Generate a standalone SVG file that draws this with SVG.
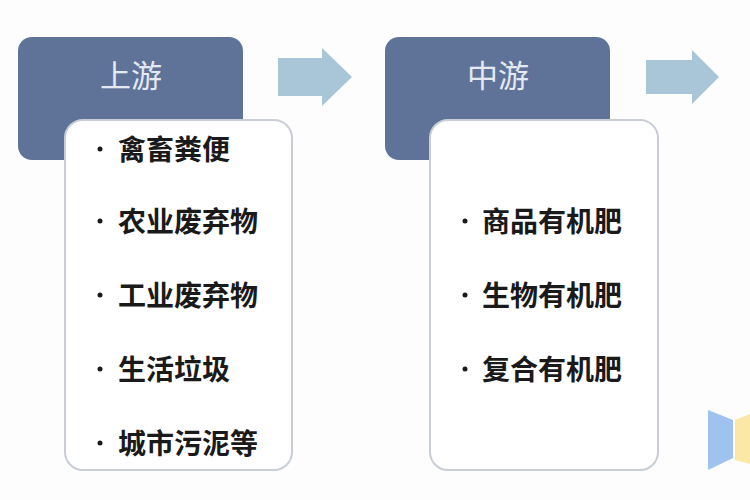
<svg xmlns="http://www.w3.org/2000/svg" width="750" height="500" viewBox="0 0 750 500">
<style>
.hd{fill:#5f7399}
.bx{fill:#fff;stroke:#c9ced6;stroke-width:2}
.ar{fill:#a9c6d9}
.ht{font-family:"Noto Sans CJK SC",sans-serif;font-size:31px;fill:#e4e9f2;text-anchor:middle}
.it{font-family:"Noto Sans CJK SC",sans-serif;font-size:28px;font-weight:bold;fill:#1a1a1a}
.bl{fill:#1a1a1a}
</style>
<rect width="750" height="500" fill="#fdfdfe"/>
<g id="up">
<rect class="hd" x="18" y="37" width="225" height="123" rx="14"/>
<text class="ht" x="131" y="87">上游</text>
<rect class="bx" x="65" y="120" width="227" height="350" rx="18"/>
<circle class="bl" cx="100" cy="149" r="2.5"/><text class="it" x="118" y="160">禽畜粪便</text>
<circle class="bl" cx="100" cy="221" r="2.5"/><text class="it" x="118" y="232">农业废弃物</text>
<circle class="bl" cx="100" cy="295" r="2.5"/><text class="it" x="118" y="306">工业废弃物</text>
<circle class="bl" cx="100" cy="369" r="2.5"/><text class="it" x="118" y="380">生活垃圾</text>
<circle class="bl" cx="100" cy="443" r="2.5"/><text class="it" x="118" y="454">城市污泥等</text>
</g>
<g id="mid">
<rect class="hd" x="385" y="37" width="225" height="123" rx="14"/>
<text class="ht" x="498" y="87">中游</text>
<rect class="bx" x="430" y="120" width="228" height="350" rx="18"/>
<circle class="bl" cx="465" cy="221" r="2.5"/><text class="it" x="482" y="232">商品有机肥</text>
<circle class="bl" cx="465" cy="295" r="2.5"/><text class="it" x="482" y="306">生物有机肥</text>
<circle class="bl" cx="465" cy="369" r="2.5"/><text class="it" x="482" y="380">复合有机肥</text>
</g>
<g id="connectors">
<polygon class="ar" points="278,58 322,58 322,48 352,77 322,106 322,96 278,96"/>
<polygon class="ar" points="646,60 692,60 692,50 719,77 692,104 692,94 646,94"/>
</g>
<g id="right">
<polygon points="708,410 733,420 733,458 708,470" fill="#9fc2ef"/>
<polygon points="735,420 750,414 750,464 735,460" fill="#fbe7a6"/>
</g>
</svg>
